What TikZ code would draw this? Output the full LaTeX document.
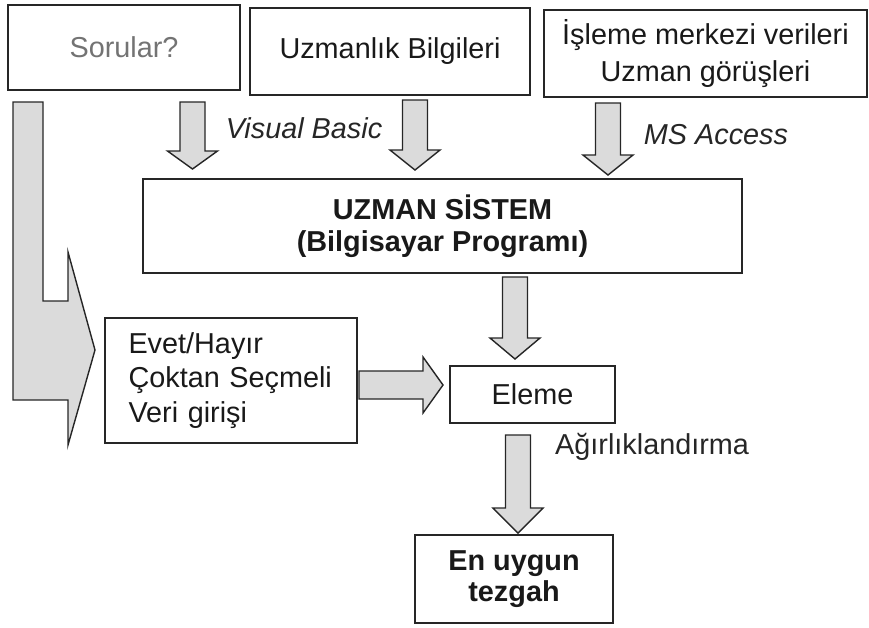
\documentclass[tikz,border=0pt]{standalone}
\usepackage{fontspec}
\setmainfont{Liberation Sans}
\newcommand{\fatdown}[4]{%
  \draw[fatarrow] (#1-12.5,#2) -- (#1+12.5,#2) -- (#1+12.5,#3-#4) -- (#1+25,#3-#4)
    -- (#1,#3) -- (#1-25,#3-#4) -- (#1-12.5,#3-#4) -- cycle;}
\begin{document}
\begin{tikzpicture}[x=0.02cm,y=-0.02cm,line join=miter,
  box/.style={draw=black!85,line width=0.9pt,inner sep=0pt,align=center,
    font=\fontsize{16.4}{19.5}\selectfont,text=black!90},
  fatarrow/.style={draw=black!85,line width=0.8pt,fill=gray!28},
  lbl/.style={font=\fontsize{16.4}{19.5}\selectfont,text=black!85}]
  \useasboundingbox (0,0) rectangle (869,627);
  \node[box,minimum width=4.64cm,minimum height=1.70cm,text=black!55] (sorular) at (124,47.5) {Sorular?};
  \node[box,minimum width=5.60cm,minimum height=1.74cm] (uzmanlik) at (390,51.5) {Uzmanlık Bilgileri};
  \node[box,minimum width=6.46cm,minimum height=1.74cm,font=\fontsize{16.4}{21}\selectfont] (isleme) at (705.5,53.5) {İşleme merkezi verileri\\Uzman görüşleri};
  \node[box,minimum width=11.98cm,minimum height=1.88cm,font=\fontsize{16.4}{18.5}\selectfont\bfseries] (uzman) at (442.5,226) {UZMAN SİSTEM\\(Bilgisayar Programı)};
  \node[box,minimum height=2.50cm,text width=4.1cm,inner xsep=0.47cm,align=left] (evet) at (231,380.5) {Evet/Hayır\\Çoktan Seçmeli\\Veri girişi};
  \node[box,minimum width=3.30cm,minimum height=1.14cm] (eleme) at (532.5,394.5) {Eleme};
  \node[box,minimum width=3.96cm,minimum height=1.76cm,font=\fontsize{16.4}{17.5}\selectfont\bfseries] (tezgah) at (514,579) {En uygun\\tezgah};
  \fatdown{192.5}{102}{169}{18}
  \fatdown{415}{100}{170}{20}
  \fatdown{608}{103}{175}{20}
  \fatdown{515}{277}{359}{21}
  \fatdown{518}{435}{533}{25}
  \draw[fatarrow] (359,371) -- (423,371) -- (423,357) -- (443,385) -- (423,413) -- (423,399) -- (359,399) -- cycle;
  \draw[fatarrow] (13,102) -- (43,102) -- (43,301) -- (68,301) -- (68,252) -- (95,350) -- (68,445) -- (68,400) -- (13,400) -- cycle;
  \node[lbl,font=\fontsize{16.4}{19.5}\selectfont\itshape] (vb) at (304,128) {Visual Basic};
  \node[lbl,font=\fontsize{16.4}{19.5}\selectfont\itshape] (msa) at (716,135) {MS Access};
  \node[lbl,anchor=west] (agir) at (549,447) {Ağırlıklandırma};
\end{tikzpicture}
\end{document}
